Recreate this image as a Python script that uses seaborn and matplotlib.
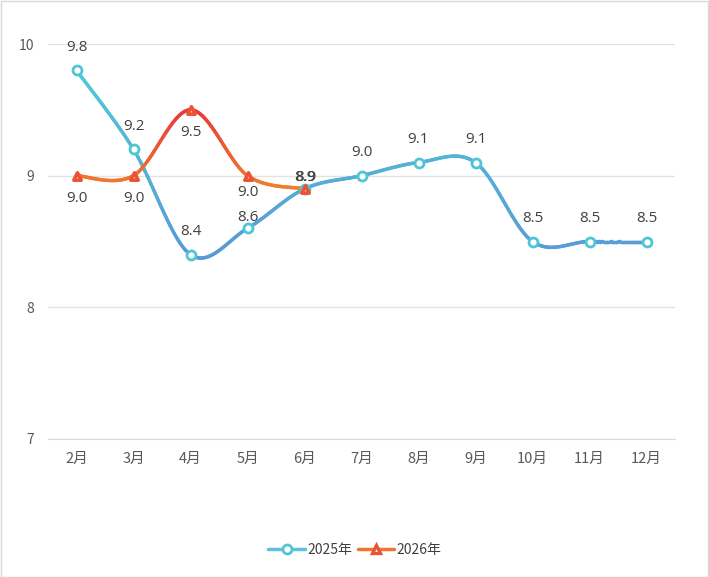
import numpy as np
import pandas as pd
import seaborn as sns
import matplotlib.pyplot as plt
from matplotlib.collections import LineCollection
from matplotlib.colors import LinearSegmentedColormap
from matplotlib.lines import Line2D
from matplotlib.patches import Rectangle

# data
months = ['2月', '3月', '4月', '5月', '6月', '7月', '8月', '9月', '10月', '11月', '12月']
vals_2025 = [9.8, 9.2, 8.4, 8.6, 8.9, 9.0, 9.1, 9.1, 8.5, 8.5, 8.5]
vals_2026 = [9.0, 9.0, 9.5, 9.0, 8.9]
series_names = ['2025年', '2026年']

sns.set_style('white')
plt.rcParams['font.family'] = ['Noto Sans CJK SC', 'DejaVu Sans']

df = pd.concat([
    pd.DataFrame({'month': months, 'x': range(len(months)), 'value': vals_2025, 'series': series_names[0]}),
    pd.DataFrame({'month': months[:len(vals_2026)], 'x': range(len(vals_2026)), 'value': vals_2026, 'series': series_names[1]}),
])


def smooth(xs, ys, n=40):
    # catmull-rom style bezier, like excel's smoothed line
    p = np.column_stack([xs, ys]).astype(float)
    p = np.vstack([p[0], p, p[-1]])
    out = []
    t = np.linspace(0, 1, n)[:, None]
    for i in range(1, len(p) - 2):
        p0, p1, p2, p3 = p[i - 1], p[i], p[i + 1], p[i + 2]
        c1 = p1 + (p2 - p0) / 6
        c2 = p2 - (p3 - p1) / 6
        seg = ((1 - t) ** 3) * p1 + 3 * ((1 - t) ** 2) * t * c1 + 3 * (1 - t) * t ** 2 * c2 + t ** 3 * p2
        out.append(seg if i == 1 else seg[1:])
    return np.vstack(out)


def gradient_line(ax, pts, cmap, vmin, vmax):
    segs = np.stack([pts[:-1], pts[1:]], axis=1)
    lc = LineCollection(segs, cmap=cmap, norm=plt.Normalize(vmin, vmax),
                        linewidth=2.5, capstyle='round', joinstyle='round', zorder=2)
    lc.set_array((pts[:-1, 1] + pts[1:, 1]) / 2)
    ax.add_collection(lc)


fig = plt.figure(figsize=(7.09, 5.77), dpi=100)
ax = fig.add_axes([48 / 709, 1 - 439 / 577, 627 / 709, 395 / 577])

cmap25 = LinearSegmentedColormap.from_list('c25', ['#5A9AD6', '#4FCBD6'])
cmap26 = LinearSegmentedColormap.from_list('c26', ['#F07F2E', '#E8383A'])

styles = {
    '2025年': dict(cmap=cmap25, vmin=8.4, vmax=9.8, marker='o', edge='#4FC6D8', size=42, lw=2.0, off=16.5),
    '2026年': dict(cmap=cmap26, vmin=8.9, vmax=9.5, marker='^', edge='#EC5334', size=28, lw=2.6, off=-16.5),
}
# label offsets excel nudged to dodge each other
nudges = {('2025年', 3): 8, ('2026年', 3): -12, ('2025年', 4): 8.5, ('2026年', 4): 8}

for name, g in df.groupby('series', sort=False):
    st = styles[name]
    gradient_line(ax, smooth(g['x'].values, g['value'].values), st['cmap'], st['vmin'], st['vmax'])
    sns.scatterplot(data=g, x='x', y='value', marker=st['marker'], s=st['size'],
                    color='white', edgecolor=st['edge'], linewidth=st['lw'], zorder=3, ax=ax, legend=False)
    for xi, v in zip(g['x'], g['value']):
        off = nudges.get((name, xi), st['off'])
        dx = 0.8 if (name == '2026年' and xi == 4) else 0
        ax.annotate(f'{v:.1f}', (xi, v), xytext=(dx, off), textcoords='offset points',
                    ha='center', va='center', fontsize=11, color='#404040',
                    family=['Open Sans', 'DejaVu Sans'], zorder=4)

ax.set_xlim(-0.5, len(months) - 0.5)
ax.set_ylim(7, 10)
ax.set_yticks([7, 8, 9, 10])
ax.set_yticklabels(['7', '8', '9', '10'], fontsize=10, color='#595959')
ax.set_xticks(range(len(months)))
ax.set_xticklabels(months, fontsize=10.5, color='#595959')
ax.set_xticks(np.arange(-0.5, len(months), 1), minor=True)
ax.tick_params(axis='x', which='major', length=0, pad=9)
ax.tick_params(axis='x', which='minor', length=5, color='#D9D9D9', width=1)
ax.tick_params(axis='y', length=0, pad=10)
ax.grid(axis='y', color='#E3E3E3', linewidth=1)
ax.set_axisbelow(True)
ax.set_xlabel('')
ax.set_ylabel('')
for s in ['top', 'right', 'left']:
    ax.spines[s].set_visible(False)
ax.spines['bottom'].set_color('#D9D9D9')

handles = [
    Line2D([], [], color='#5BC3D8', lw=2.5, marker='o', markersize=6.5, markerfacecolor='white',
           markeredgecolor='#4FC6D8', markeredgewidth=2),
    Line2D([], [], color='#EE7431', lw=2.5, marker='^', markersize=5.5, markerfacecolor='white',
           markeredgecolor='#EC5334', markeredgewidth=2.4),
]
fig.legend(handles, series_names, loc='center', bbox_to_anchor=(355 / 709, 1 - 550 / 577), ncol=2,
           frameon=False, fontsize=10, labelcolor='#404040', handlelength=2.6, columnspacing=0.4,
           handletextpad=0.2)

fig.patches.append(Rectangle((0.5 / 709, 0.5 / 577), 1 - 1.5 / 709, 1 - 1.5 / 577, transform=fig.transFigure,
                             fill=False, edgecolor='#D9D9D9', linewidth=1))

fig.savefig('out.png', dpi=100)
